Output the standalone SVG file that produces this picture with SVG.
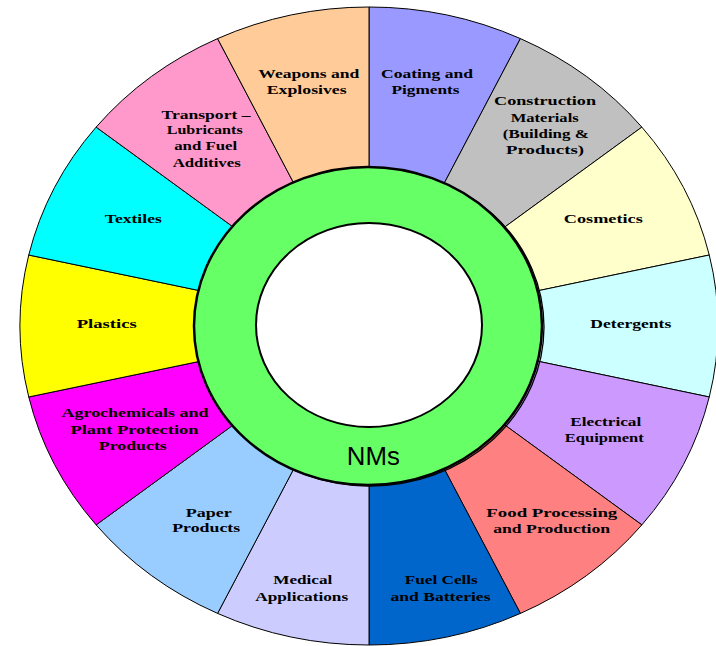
<svg xmlns="http://www.w3.org/2000/svg" width="716" height="646" viewBox="0 0 716 646">
<style>
.seg{stroke:#000;stroke-width:1}
.lbl{font-family:"Liberation Serif","Times New Roman",serif;font-weight:bold;font-size:13px;text-anchor:middle;fill:#000}
.nms{font-family:"Liberation Sans",Arial,sans-serif;font-size:25px;text-anchor:middle;fill:#000}
</style>
<rect width="716" height="646" fill="#fff"/>
<g id="seg-coating">
<path class="seg" fill="#9999FF" d="M369,326 L369,7 A349,319 0 0 1 520.42,38.59 Z"/>
<text class="lbl" x="427" y="78" textLength="92" lengthAdjust="spacingAndGlyphs">Coating and</text>
<text class="lbl" x="425.5" y="93.5" textLength="68" lengthAdjust="spacingAndGlyphs">Pigments</text>
</g>
<g id="seg-construction">
<path class="seg" fill="#C0C0C0" d="M369,326 L520.42,38.59 A349,319 0 0 1 641.86,127.11 Z"/>
<text class="lbl" x="545" y="104.5" textLength="102" lengthAdjust="spacingAndGlyphs">Construction</text>
<text class="lbl" x="544.7" y="121.5" textLength="68" lengthAdjust="spacingAndGlyphs">Materials</text>
<text class="lbl" x="545.8" y="137.7" textLength="86" lengthAdjust="spacingAndGlyphs">(Building &amp;</text>
<text class="lbl" x="545" y="154" textLength="78" lengthAdjust="spacingAndGlyphs">Products)</text>
</g>
<g id="seg-cosmetics">
<path class="seg" fill="#FFFFCC" d="M369,326 L641.86,127.11 A349,319 0 0 1 709.25,255.02 Z"/>
<text class="lbl" x="603.3" y="222.7" textLength="79" lengthAdjust="spacingAndGlyphs">Cosmetics</text>
</g>
<g id="seg-detergents">
<path class="seg" fill="#CCFFFF" d="M369,326 L709.25,255.02 A349,319 0 0 1 709.25,396.98 Z"/>
<text class="lbl" x="630.8" y="328" textLength="81" lengthAdjust="spacingAndGlyphs">Detergents</text>
</g>
<g id="seg-electrical">
<path class="seg" fill="#CC99FF" d="M369,326 L709.25,396.98 A349,319 0 0 1 641.86,524.89 Z"/>
<text class="lbl" x="605.8" y="426" textLength="71" lengthAdjust="spacingAndGlyphs">Electrical</text>
<text class="lbl" x="604.3" y="441.7" textLength="79" lengthAdjust="spacingAndGlyphs">Equipment</text>
</g>
<g id="seg-food">
<path class="seg" fill="#FF8080" d="M369,326 L641.86,524.89 A349,319 0 0 1 520.42,613.41 Z"/>
<text class="lbl" x="551.8" y="516.7" textLength="131" lengthAdjust="spacingAndGlyphs">Food Processing</text>
<text class="lbl" x="551.7" y="533.3" textLength="117" lengthAdjust="spacingAndGlyphs">and Production</text>
</g>
<g id="seg-fuelcells">
<path class="seg" fill="#0066CC" d="M369,326 L520.42,613.41 A349,319 0 0 1 369,645 Z"/>
<text class="lbl" x="441.3" y="584" textLength="73" lengthAdjust="spacingAndGlyphs">Fuel Cells</text>
<text class="lbl" x="440.5" y="600.7" textLength="100" lengthAdjust="spacingAndGlyphs">and Batteries</text>
</g>
<g id="seg-medical">
<path class="seg" fill="#CCCCFF" d="M369,326 L369,645 A349,319 0 0 1 217.58,613.41 Z"/>
<text class="lbl" x="302.8" y="584" textLength="59" lengthAdjust="spacingAndGlyphs">Medical</text>
<text class="lbl" x="301.7" y="600.7" textLength="93" lengthAdjust="spacingAndGlyphs">Applications</text>
</g>
<g id="seg-paper">
<path class="seg" fill="#99CCFF" d="M369,326 L217.58,613.41 A349,319 0 0 1 96.14,524.89 Z"/>
<text class="lbl" x="208.8" y="516.7" textLength="46" lengthAdjust="spacingAndGlyphs">Paper</text>
<text class="lbl" x="206.2" y="532" textLength="68" lengthAdjust="spacingAndGlyphs">Products</text>
</g>
<g id="seg-agro">
<path class="seg" fill="#FF00FF" d="M369,326 L96.14,524.89 A349,319 0 0 1 28.75,396.98 Z"/>
<text class="lbl" x="135" y="417.3" textLength="147" lengthAdjust="spacingAndGlyphs">Agrochemicals and</text>
<text class="lbl" x="134.5" y="434.3" textLength="128" lengthAdjust="spacingAndGlyphs">Plant Protection</text>
<text class="lbl" x="132.8" y="450" textLength="68" lengthAdjust="spacingAndGlyphs">Products</text>
</g>
<g id="seg-plastics">
<path class="seg" fill="#FFFF00" d="M369,326 L28.75,396.98 A349,319 0 0 1 28.75,255.02 Z"/>
<text class="lbl" x="106.7" y="328" textLength="60" lengthAdjust="spacingAndGlyphs">Plastics</text>
</g>
<g id="seg-textiles">
<path class="seg" fill="#00FFFF" d="M369,326 L28.75,255.02 A349,319 0 0 1 96.14,127.11 Z"/>
<text class="lbl" x="133.3" y="223.3" textLength="57" lengthAdjust="spacingAndGlyphs">Textiles</text>
</g>
<g id="seg-transport">
<path class="seg" fill="#FF99CC" d="M369,326 L96.14,127.11 A349,319 0 0 1 217.58,38.59 Z"/>
<text class="lbl" x="206" y="119" textLength="89" lengthAdjust="spacingAndGlyphs">Transport –</text>
<text class="lbl" x="204.7" y="134" textLength="76" lengthAdjust="spacingAndGlyphs">Lubricants</text>
<text class="lbl" x="205.7" y="150" textLength="63" lengthAdjust="spacingAndGlyphs">and Fuel</text>
<text class="lbl" x="206.7" y="166.7" textLength="68" lengthAdjust="spacingAndGlyphs">Additives</text>
</g>
<g id="seg-weapons">
<path class="seg" fill="#FFCC99" d="M369,326 L217.58,38.59 A349,319 0 0 1 369,7 Z"/>
<text class="lbl" x="308.8" y="78.3" textLength="101" lengthAdjust="spacingAndGlyphs">Weapons and</text>
<text class="lbl" x="306.7" y="94" textLength="80" lengthAdjust="spacingAndGlyphs">Explosives</text>
</g>
<g id="hub-nms">
<ellipse cx="370" cy="327" rx="174" ry="159" fill="none" stroke="#000" stroke-width="1.3"/>
<ellipse cx="368" cy="326" rx="174" ry="159" fill="#66FF66" stroke="#000" stroke-width="2.5"/>
<ellipse cx="369" cy="325" rx="113" ry="102" fill="#fff" stroke="#000" stroke-width="2"/>
<text class="nms" x="373.3" y="465" textLength="53" lengthAdjust="spacingAndGlyphs">NMs</text>
</g>
</svg>
